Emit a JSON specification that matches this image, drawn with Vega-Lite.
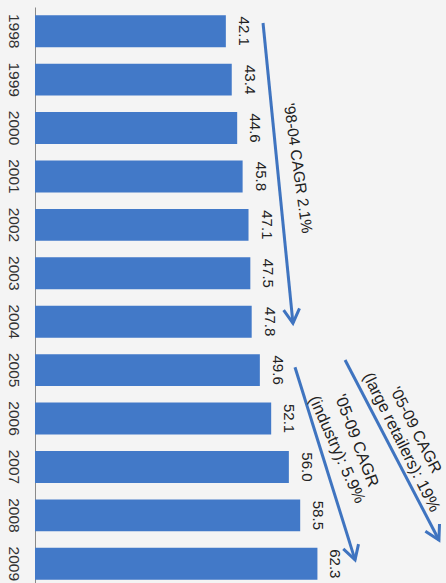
{
  "$schema": "https://vega.github.io/schema/vega-lite/v6.json",
  "width": 408,
  "height": 581,
  "autosize": {"type": "none"},
  "padding": {"left": 35, "top": 7, "right": 3, "bottom": 0},
  "background": "#f4f4f4",
  "config": {"view": {"stroke": null}, "font": "Liberation Sans"},
  "datasets": {
    "sales": [
      {"year": "1998", "value": 42.1},
      {"year": "1999", "value": 43.4},
      {"year": "2000", "value": 44.6},
      {"year": "2001", "value": 45.8},
      {"year": "2002", "value": 47.1},
      {"year": "2003", "value": 47.5},
      {"year": "2004", "value": 47.8},
      {"year": "2005", "value": 49.6},
      {"year": "2006", "value": 52.1},
      {"year": "2007", "value": 56.0},
      {"year": "2008", "value": 58.5},
      {"year": "2009", "value": 62.3}
    ],
    "arrows": [
      {"id": "a1", "from_value": 50.3, "from_year": 1997.83, "to_value": 56.9, "to_year": 2004.03},
      {"id": "a2", "from_value": 57.35, "from_year": 2004.94, "to_value": 70.6, "to_year": 2008.92},
      {"id": "a3", "from_value": 68.4, "from_year": 2004.79, "to_value": 89.1, "to_year": 2008.51}
    ],
    "notes": [
      {"line": "n1", "label": "'98-04 CAGR 2.1%", "value": 58.0, "year": 2000.83},
      {"line": "n2", "label": "'05-09 CAGR", "value": 70.9, "year": 2006.46},
      {"line": "n3", "label": "(industry): 5.9%", "value": 66.6, "year": 2006.64},
      {"line": "n4", "label": "'05-09 CAGR", "value": 84.0, "year": 2006.24},
      {"line": "n5", "label": "(large retailers): 19%", "value": 80.8, "year": 2006.49}
    ]
  },
  "layer": [
    {
      "data": {"name": "sales"},
      "encoding": {
        "y": {
          "field": "year",
          "type": "ordinal",
          "sort": null,
          "scale": {"type": "band", "paddingInner": 0.34, "paddingOuter": 0.17},
          "axis": {
            "title": null,
            "labelAngle": 90,
            "labelAlign": "center",
            "labelBaseline": "middle",
            "labelPadding": 22,
            "ticks": false,
            "tickSize": 0,
            "domainColor": "#8a8a8a",
            "domainWidth": 1,
            "labelFontSize": 15.5,
            "labelColor": "#333333",
            "labelOverlap": false,
            "labelFont": "Liberation Sans"
          }
        },
        "x": {
          "field": "value",
          "type": "quantitative",
          "scale": {"domain": [0, 90], "nice": false},
          "axis": null
        }
      },
      "layer": [
        {"mark": {"type": "bar", "color": "#4279c8"}},
        {
          "mark": {
            "type": "text",
            "angle": 90,
            "align": "center",
            "baseline": "alphabetic",
            "dy": -13,
            "fontSize": 15,
            "color": "#222222"
          },
          "encoding": {"text": {"field": "value", "type": "quantitative", "format": ".1f"}}
        }
      ]
    },
    {
      "encoding": {
        "x": {"type": "quantitative", "scale": {"domain": [0, 90], "nice": false}, "axis": null},
        "y": {"type": "quantitative", "scale": {"domain": [1997.5, 2009.5], "nice": false, "zero": false, "reverse": true}, "axis": null}
      },
      "layer": [
        {
          "data": {"name": "arrows"},
          "mark": {"type": "rule", "color": "#3f74c0", "strokeWidth": 3},
          "encoding": {
            "x": {"field": "from_value", "type": "quantitative"},
            "x2": {"field": "to_value"},
            "y": {"field": "from_year", "type": "quantitative"},
            "y2": {"field": "to_year"}
          }
        },
        {
          "data": {"name": "arrows"},
          "transform": [{"filter": "datum.id == 'a1'"}],
          "mark": {"type": "point", "shape": "M-0.57,-1L0,0L0.57,-1", "filled": false, "opacity": 1, "color": "#3f74c0", "strokeWidth": 3, "size": 784, "angle": -5.7},
          "encoding": {
            "x": {"field": "to_value", "type": "quantitative"},
            "y": {"field": "to_year", "type": "quantitative"}
          }
        },
        {
          "data": {"name": "arrows"},
          "transform": [{"filter": "datum.id == 'a2'"}],
          "mark": {"type": "point", "shape": "M-0.57,-1L0,0L0.57,-1", "filled": false, "opacity": 1, "color": "#3f74c0", "strokeWidth": 3, "size": 784, "angle": -17.3},
          "encoding": {
            "x": {"field": "to_value", "type": "quantitative"},
            "y": {"field": "to_year", "type": "quantitative"}
          }
        },
        {
          "data": {"name": "arrows"},
          "transform": [{"filter": "datum.id == 'a3'"}],
          "mark": {"type": "point", "shape": "M-0.57,-1L0,0L0.57,-1", "filled": false, "opacity": 1, "color": "#3f74c0", "strokeWidth": 3, "size": 784, "angle": -27.6},
          "encoding": {
            "x": {"field": "to_value", "type": "quantitative"},
            "y": {"field": "to_year", "type": "quantitative"}
          }
        },
        {
          "data": {"name": "notes"},
          "transform": [{"filter": "datum.line == 'n1'"}],
          "mark": {"type": "text", "angle": 82, "align": "center", "baseline": "middle", "fontSize": 15.5, "color": "#222222"},
          "encoding": {
            "x": {"field": "value", "type": "quantitative"},
            "y": {"field": "year", "type": "quantitative"},
            "text": {"field": "label"}
          }
        },
        {
          "data": {"name": "notes"},
          "transform": [{"filter": "datum.line == 'n2'"}],
          "mark": {"type": "text", "angle": 69.5, "align": "center", "baseline": "middle", "fontSize": 16.5, "color": "#222222"},
          "encoding": {
            "x": {"field": "value", "type": "quantitative"},
            "y": {"field": "year", "type": "quantitative"},
            "text": {"field": "label"}
          }
        },
        {
          "data": {"name": "notes"},
          "transform": [{"filter": "datum.line == 'n3'"}],
          "mark": {"type": "text", "angle": 66, "align": "center", "baseline": "middle", "fontSize": 16.5, "color": "#222222"},
          "encoding": {
            "x": {"field": "value", "type": "quantitative"},
            "y": {"field": "year", "type": "quantitative"},
            "text": {"field": "label"}
          }
        },
        {
          "data": {"name": "notes"},
          "transform": [{"filter": "datum.line == 'n4'"}],
          "mark": {"type": "text", "angle": 63, "align": "center", "baseline": "middle", "fontSize": 16, "color": "#222222"},
          "encoding": {
            "x": {"field": "value", "type": "quantitative"},
            "y": {"field": "year", "type": "quantitative"},
            "text": {"field": "label"}
          }
        },
        {
          "data": {"name": "notes"},
          "transform": [{"filter": "datum.line == 'n5'"}],
          "mark": {"type": "text", "angle": 63.5, "align": "center", "baseline": "middle", "fontSize": 16.5, "color": "#222222"},
          "encoding": {
            "x": {"field": "value", "type": "quantitative"},
            "y": {"field": "year", "type": "quantitative"},
            "text": {"field": "label"}
          }
        }
      ]
    }
  ],
  "resolve": {"scale": {"y": "independent"}, "axis": {"y": "independent"}}
}
